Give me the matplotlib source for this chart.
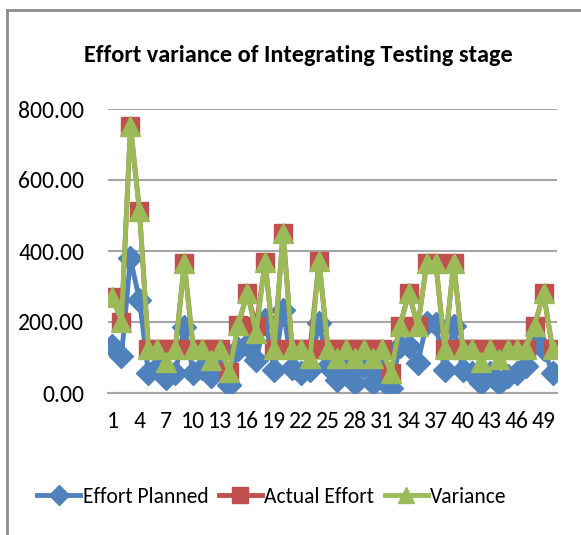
import matplotlib
matplotlib.use("Agg")
import matplotlib.pyplot as plt
from matplotlib.lines import Line2D

plt.rcParams["font.family"] = ["Carlito", "Liberation Sans", "DejaVu Sans"]

# Data
categories = list(range(1, 51))
effort_planned = [131, 103, 379, 262, 56, 70, 42, 56, 187, 56,
                  70, 47, 65, 22, 124, 135, 94, 205, 66, 235,
                  70, 56, 65, 198, 75, 38, 70, 28, 75, 28,
                  65, 15, 132, 132, 85, 198, 193, 66, 188, 66,
                  56, 28, 56, 29, 48, 57, 76, 143, 124, 57]
actual_effort = [271, 201, 753, 514, 125, 125, 125, 125, 365, 125,
                 125, 125, 125, 60, 192, 281, 188, 370, 125, 452,
                 125, 125, 125, 372, 125, 125, 125, 125, 125, 125,
                 125, 56, 188, 282, 188, 367, 367, 125, 367, 125,
                 125, 125, 125, 125, 125, 125, 125, 188, 282, 125]
variance = [271, 201, 753, 514, 125, 125, 88, 125, 365, 125,
            125, 94, 125, 60, 192, 281, 170, 370, 125, 452,
            125, 125, 100, 372, 125, 100, 125, 100, 125, 100,
            125, 56, 188, 282, 188, 367, 367, 125, 367, 125,
            125, 88, 125, 95, 125, 125, 125, 188, 282, 125]
y_ticks = [0, 200, 400, 600, 800]

BLUE = "#4F81BD"
RED = "#C0504D"
GREEN = "#9BBB59"

fig = plt.figure(figsize=(5.81, 5.35), dpi=100)
ax = fig.add_axes([108 / 581, 142 / 535, 449 / 581, 284 / 535])

ax.plot(categories, effort_planned, color=BLUE, lw=3.5, marker="D", ms=12.5,
        label="Effort Planned", zorder=3)
ax.plot(categories, actual_effort, color=RED, lw=3.5, marker="s", ms=13,
        label="Actual Effort", zorder=4)
ax.plot(categories, variance, color=GREEN, lw=3.5, marker="^", ms=14,
        label="Variance", zorder=5)

ax.set_xlim(0.5, 50.5)
ax.set_ylim(0, 800)
ax.set_yticks(y_ticks)
ax.set_yticklabels([f"{v:.2f}" for v in y_ticks], fontsize=17)
ax.set_xticks(categories[::3])
ax.set_xticklabels([str(c) for c in categories[::3]], fontsize=17)
ax.tick_params(length=0, pad=13)
ax.tick_params(axis="y", pad=17)
ax.grid(axis="y", color="#A6A6A6", lw=1.5)
ax.set_axisbelow(True)
for side in ["left", "right", "top"]:
    ax.spines[side].set_visible(False)
ax.spines["bottom"].set_color("#A6A6A6")
ax.spines["bottom"].set_linewidth(1.5)

fig.text(0.514, 1 - 55 / 535, "Effort variance of Integrating Testing stage",
         ha="center", va="center", fontsize=17.5, fontweight="bold")

handles = [Line2D([], [], color=BLUE, lw=3.5, marker="D", ms=10),
           Line2D([], [], color=RED, lw=3.5, marker="s", ms=11),
           Line2D([], [], color=GREEN, lw=3.5, marker="^", ms=11)]
fig.legend(handles, ["Effort Planned", "Actual Effort", "Variance"],
           loc="center", bbox_to_anchor=(272 / 581, 1 - 497 / 535), ncol=3,
           frameon=False, fontsize=15.5, handlelength=2.0, handletextpad=0.1,
           columnspacing=0.5)

# chart frame (left and top edges visible in the crop)
fig.add_artist(Line2D([7 / 581, 7 / 581], [0, 1 - 10 / 535],
                      transform=fig.transFigure, color="#8C8C8C", lw=2))
fig.add_artist(Line2D([7 / 581, 1], [1 - 10 / 535, 1 - 10 / 535],
                      transform=fig.transFigure, color="#8C8C8C", lw=2))

fig.savefig("out.png", dpi=100)
